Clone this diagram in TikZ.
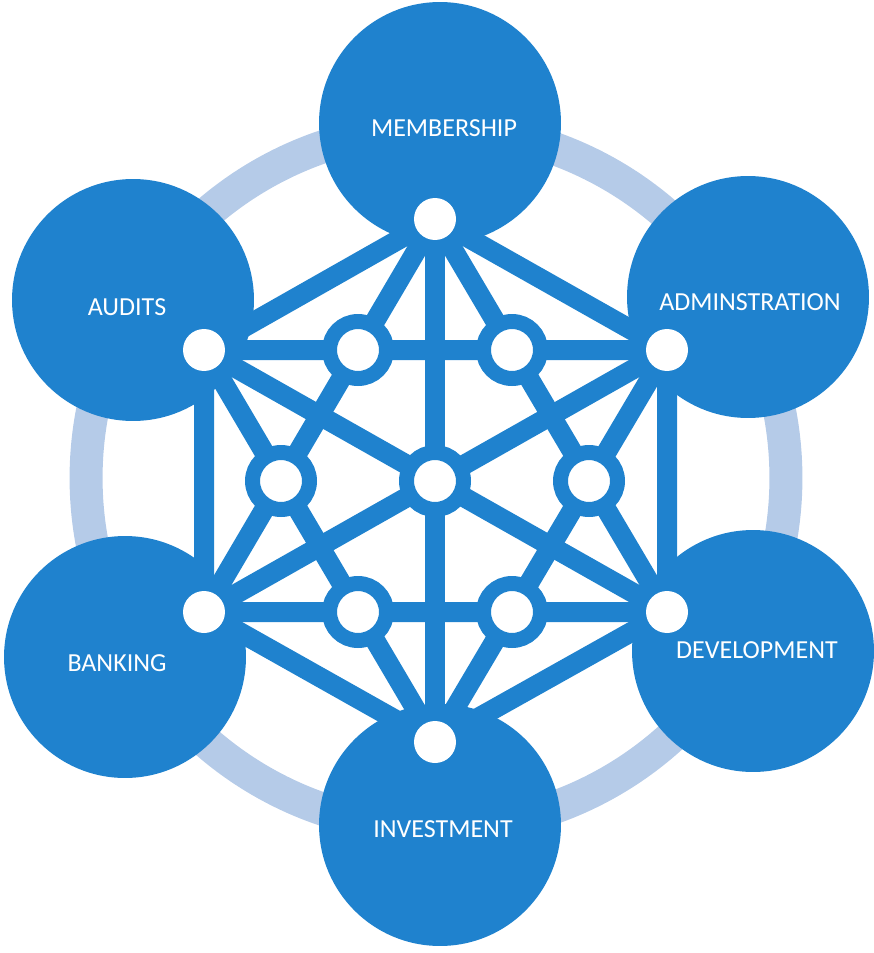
\documentclass[tikz,border=0pt]{standalone}
\usepackage{fontspec}
\setmainfont{Carlito}
\definecolor{nodeblue}{RGB}{31,130,206}
\definecolor{ringblue}{RGB}{181,203,232}
\pgfdeclarelayer{back}
\pgfdeclarelayer{mid}
\pgfsetlayers{back,mid,main}

\begin{document}
\begin{tikzpicture}[x=0.02cm, y=-0.02cm,
	disc/.style={circle, fill=nodeblue, minimum size=4.84cm, inner sep=0pt},
	tag/.style={text=white, inner sep=0pt, font=\fontsize{14.8}{18}\selectfont},
	port/.style={circle, fill=white, minimum size=0.84cm, inner sep=0pt},
	hub/.style={circle, fill=white, draw=nodeblue, line width=0.3cm, minimum size=1.14cm, inner sep=0pt},
	link/.style={draw=nodeblue, line width=0.4cm, line join=round}]
			%%%%% START %%%%%
			
			\useasboundingbox (0, 0) rectangle (874, 953);
			
			\begin{pgfonlayer}{back}
			\draw[line width=0.66cm, color=ringblue] (436, 478) circle[radius=7cm];
			
			\node[disc, label={[tag, xshift=0.08cm, yshift=-0.1cm]center:MEMBERSHIP}] (mem) at (440, 123) {};
			\node[disc, label={[tag, xshift=0.04cm, yshift=-0.1cm]center:ADMINSTRATION}] (adm) at (748, 297) {};
			\node[disc, label={[tag, xshift=0.08cm, yshift=0.02cm]center:DEVELOPMENT}] (dev) at (753, 651) {};
			\node[disc, label={[tag, xshift=0.06cm, yshift=-0.08cm]center:INVESTMENT}] (inv) at (440, 825) {};
			\node[disc, label={[tag, xshift=-0.16cm, yshift=-0.12cm]center:BANKING}] (bank) at (125, 657) {};
			\node[disc, label={[tag, xshift=-0.12cm, yshift=-0.14cm]center:AUDITS}] (aud) at (133, 300) {};
			\end{pgfonlayer}
			
			\node[port] (pm) at (435, 219) {};
			\node[port] (pa) at (667, 350) {};
			\node[port] (pd) at (667, 612) {};
			\node[port] (pi) at (435, 742) {};
			\node[port] (pb) at (204, 612) {};
			\node[port] (pu) at (204, 350) {};
			
			\node[hub] (c0) at (435, 481) {};
			\node[hub] (h1) at (358, 350) {};
			\node[hub] (h2) at (512, 350) {};
			\node[hub] (h3) at (589, 481) {};
			\node[hub] (h4) at (512, 612) {};
			\node[hub] (h5) at (358, 612) {};
			\node[hub] (h6) at (281, 481) {};
			
			\begin{pgfonlayer}{mid}
			\draw[link] (pm.center) -- (pa.center) -- (pd.center) -- (pi.center) -- (pb.center) -- (pu.center) -- cycle;
			\draw[link] (pm.center) -- (pb.center) -- (pd.center) -- cycle;
			\draw[link] (pi.center) -- (pu.center) -- (pa.center) -- cycle;
			\draw[link] (pm.center) -- (pi.center);
			\draw[link] (pu.center) -- (pd.center);
			\draw[link] (pa.center) -- (pb.center);
			\end{pgfonlayer}
			
			%%%%% END %%%%%
\end{tikzpicture}
\end{document}
